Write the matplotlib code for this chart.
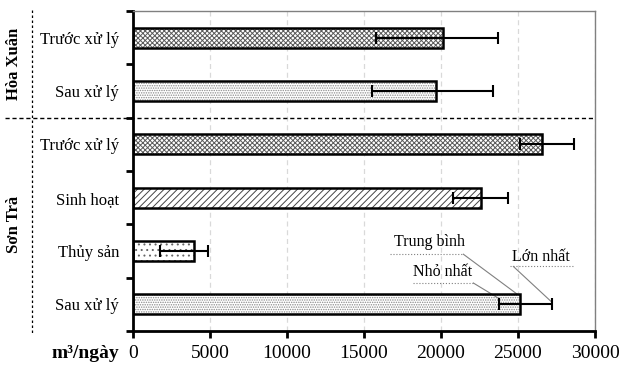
import matplotlib
matplotlib.use('Agg')
import matplotlib.pyplot as plt
import matplotlib.transforms as mtransforms
from matplotlib.lines import Line2D
import numpy as np

# dados (m3/ngày)
nhom = ['Hòa Xuân', 'Sơn Trà']
hang_muc = ['Trước xử lý', 'Sau xử lý', 'Trước xử lý', 'Sinh hoạt', 'Thủy sản', 'Sau xử lý']
trung_binh = [20100, 19650, 26550, 22600, 3950, 25150]
nho_nhat = [15800, 15550, 25150, 20750, 1750, 23750]
lon_nhat = [23700, 23350, 28650, 24350, 4850, 27200]
hoa_van = ['xxxxxxx', '.......', 'xxxxxxx', '/////', '...', '.......']
mau_hoa_van = ['#5a5a5a', '#8a8a8a', '#5a5a5a', '#444444', '#666666', '#8a8a8a']

plt.rcParams['font.family'] = ['Liberation Serif', 'DejaVu Serif']
plt.rcParams['hatch.linewidth'] = 0.7

fig = plt.figure(figsize=(6.22, 3.65), dpi=100)
ax = fig.add_axes([133 / 622, 34 / 365, 462 / 622, 320 / 365])

y = np.arange(len(hang_muc))
tb = np.array(trung_binh)
mn = np.array(nho_nhat)
mx = np.array(lon_nhat)
h = 0.38

for i in range(len(y)):
    ax.barh(y[i], tb[i], height=h, color='white', edgecolor=mau_hoa_van[i],
            hatch=hoa_van[i], linewidth=0, zorder=2)
ax.barh(y, tb, height=h, fill=False, edgecolor='black', linewidth=1.8, zorder=3)
ax.errorbar(tb, y, xerr=[tb - mn, mx - tb], fmt='none', ecolor='black',
            elinewidth=1.5, capsize=4, capthick=1.5, zorder=4)

ax.set_xlim(0, 30000)
ax.set_ylim(5.5, -0.5)
ax.set_xticks(np.arange(0, 30001, 5000))
ax.set_yticks(y)
ax.set_yticklabels(hang_muc, fontsize=12)
ax.set_yticks(np.arange(-0.5, 6, 1), minor=True)
ax.tick_params(axis='y', which='major', length=0, pad=10)
ax.tick_params(axis='y', which='minor', length=5, width=2, direction='out')
ax.tick_params(axis='x', length=5, width=2, direction='out', labelsize=14, pad=5)

ax.grid(axis='x', color='#d9d9d9', linestyle=(0, (4, 3)), linewidth=0.9, zorder=0)
ax.set_axisbelow(True)
for s in ['left', 'bottom']:
    ax.spines[s].set_linewidth(2)
    ax.spines[s].set_color('black')
for s in ['top', 'right']:
    ax.spines[s].set_linewidth(1)
    ax.spines[s].set_color('#808080')

# linhas divisórias dos grupos
trans = mtransforms.blended_transform_factory(fig.transFigure, ax.transData)
fig.add_artist(Line2D([5 / 622, 595 / 622], [1.5, 1.5], transform=trans,
                      color='black', linestyle=(0, (3, 2)), linewidth=1))
fig.add_artist(Line2D([32 / 622, 32 / 622], [1 - 10 / 365, 30 / 365],
                      transform=fig.transFigure, color='black',
                      linestyle=(0, (2, 2)), linewidth=0.9))

fig.text(14 / 622, 0.5, nhom[0], transform=trans, rotation=90, ha='center',
         va='center', fontsize=12, fontweight='bold')
fig.text(14 / 622, 3.5, nhom[1], transform=trans, rotation=90, ha='center',
         va='center', fontsize=12, fontweight='bold')

fig.text(119 / 622, 12 / 365, 'm³/ngày', ha='right', va='center',
         fontsize=14, fontweight='bold')

# chú thích
k = len(y) - 1
cinza = '#808080'
ax.text(19250, 3.83, 'Trung bình', ha='center', va='center', fontsize=11.5)
ax.plot([16700, 21450], [4.06, 4.06], color=cinza, lw=0.8, ls=':')
ax.plot([21450, tb[k] - 200], [4.06, k - h / 2], color=cinza, lw=0.8)
ax.text(20100, 4.40, 'Nhỏ nhất', ha='center', va='center', fontsize=11.5)
ax.plot([18150, 22100], [4.60, 4.60], color=cinza, lw=0.8, ls=':')
ax.plot([22100, mn[k] - 50], [4.60, k - 0.12], color=cinza, lw=0.8)
ax.text(26500, 4.11, 'Lớn nhất', ha='center', va='center', fontsize=11.5)
ax.plot([24500, 28550], [4.29, 4.29], color=cinza, lw=0.8, ls=':')
ax.plot([24700, mx[k]], [4.29, k - 0.04], color=cinza, lw=0.8)

fig.savefig('out.png', dpi=100)
